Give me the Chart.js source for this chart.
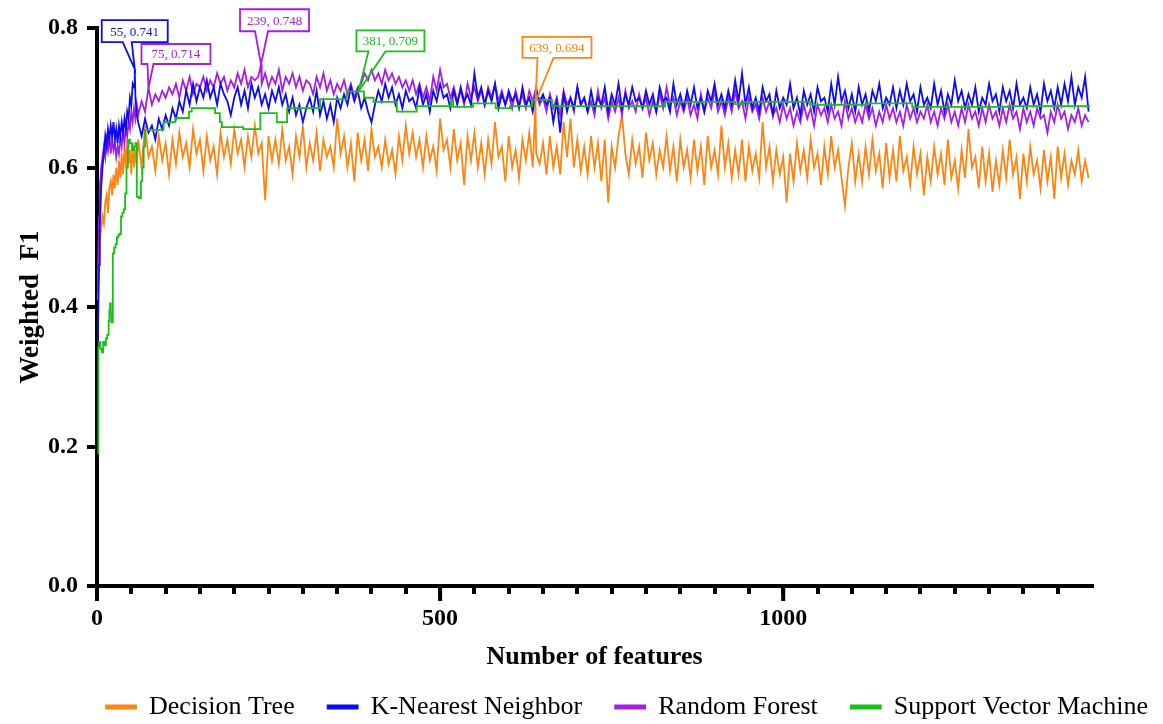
<!DOCTYPE html>
<html lang="en">
<head>
<meta charset="UTF-8">
<title>Weighted F1 vs number of features</title>
<style>
  html, body { margin: 0; padding: 0; background: #fff; }
  #wrap { width: 1163px; height: 724px; position: relative; }
</style>
</head>
<body>
<div id="wrap"><canvas id="f1Chart"></canvas></div>
<script src="https://cdn.jsdelivr.net/npm/chart.js"></script>
<script>
// series names and colours
const seriesNames = ["Decision Tree", "K-Nearest Neighbor", "Random Forest", "Support Vector Machine"];
const seriesColors = ["#ff8412", "#0c0cf4", "#a51ee6", "#19bf19"];

// features read one by one at the start, then every 5 features
const earlyFeatures = [1, 2, 3, 4, 5, 6, 8, 10, 12, 14, 16, 18, 20, 22, 24, 26, 28, 30, 32, 34, 36, 38, 40, 42, 44, 46, 48, 50, 52, 54, 56, 58];
const gridStart = 60, gridStep = 5, gridEnd = 1445;

// Decision Tree
const dtValues = [
  0.41, 0.45, 0.47, 0.49, 0.505, 0.51, 0.53, 0.52, 0.55, 0.56, 0.535, 0.57, 0.58, 0.56, 0.59, 0.57,
  0.60, 0.575, 0.61, 0.585, 0.62, 0.59, 0.63, 0.60, 0.64, 0.605, 0.625, 0.59, 0.635, 0.60, 0.625, 0.605,
  0.64, 0.60, 0.66, 0.615, 0.63, 0.595, 0.645, 0.61, 0.635, 0.59,   // 60
  0.64, 0.605, 0.65, 0.615, 0.635, 0.60, 0.655, 0.62, 0.64, 0.595,  // 110
  0.645, 0.61, 0.63, 0.59, 0.65, 0.615, 0.64, 0.605, 0.655, 0.62,   // 160
  0.64, 0.60, 0.645, 0.615, 0.66, 0.62, 0.635, 0.553, 0.645, 0.61,  // 210
  0.64, 0.605, 0.655, 0.61, 0.63, 0.59, 0.645, 0.615, 0.66, 0.60,   // 260
  0.635, 0.61, 0.65, 0.595, 0.64, 0.615, 0.63, 0.60, 0.67, 0.62,    // 310
  0.645, 0.60, 0.635, 0.58, 0.65, 0.61, 0.64, 0.595, 0.655, 0.615,  // 360
  0.63, 0.60, 0.64, 0.605, 0.625, 0.59, 0.645, 0.61, 0.66, 0.62,    // 410
  0.65, 0.615, 0.64, 0.60, 0.645, 0.61, 0.63, 0.595, 0.67, 0.625,   // 460
  0.64, 0.60, 0.655, 0.61, 0.635, 0.575, 0.645, 0.61, 0.65, 0.60,   // 510
  0.635, 0.59, 0.64, 0.605, 0.665, 0.615, 0.63, 0.58, 0.645, 0.60,  // 560
  0.625, 0.585, 0.64, 0.61, 0.65, 0.60, 0.62, 0.605, 0.635, 0.59,   // 610
  0.645, 0.60, 0.63, 0.59, 0.665, 0.615, 0.67, 0.60, 0.64, 0.595,   // 660
  0.63, 0.59, 0.645, 0.60, 0.635, 0.58, 0.64, 0.55, 0.63, 0.60,     // 710
  0.645, 0.675, 0.62, 0.59, 0.64, 0.605, 0.63, 0.585, 0.65, 0.61,   // 760
  0.635, 0.59, 0.625, 0.60, 0.645, 0.595, 0.63, 0.58, 0.64, 0.60,   // 810
  0.625, 0.585, 0.64, 0.595, 0.63, 0.575, 0.645, 0.60, 0.625, 0.59, // 860
  0.66, 0.60, 0.635, 0.585, 0.625, 0.59, 0.64, 0.58, 0.63, 0.595,   // 910
  0.62, 0.585, 0.665, 0.60, 0.63, 0.58, 0.625, 0.59, 0.615, 0.55,   // 960
  0.62, 0.58, 0.635, 0.595, 0.625, 0.585, 0.64, 0.60, 0.62, 0.575,  // 1010
  0.63, 0.59, 0.645, 0.60, 0.625, 0.585, 0.545, 0.60, 0.635, 0.58,  // 1060
  0.62, 0.58, 0.63, 0.59, 0.64, 0.595, 0.62, 0.57, 0.635, 0.585,    // 1110
  0.625, 0.58, 0.645, 0.595, 0.615, 0.575, 0.63, 0.59, 0.62, 0.56,  // 1160
  0.615, 0.58, 0.63, 0.59, 0.62, 0.575, 0.64, 0.585, 0.61, 0.57,    // 1210
  0.625, 0.585, 0.655, 0.60, 0.615, 0.57, 0.63, 0.58, 0.62, 0.565,  // 1260
  0.61, 0.575, 0.625, 0.585, 0.64, 0.59, 0.615, 0.555, 0.62, 0.58,  // 1310
  0.63, 0.59, 0.61, 0.57, 0.625, 0.58, 0.615, 0.555, 0.63, 0.585,   // 1360
  0.62, 0.575, 0.61, 0.59, 0.625, 0.58, 0.61, 0.585                 // 1410
];

// K-Nearest Neighbor
const knnValues = [
  0.35, 0.40, 0.46, 0.51, 0.54, 0.57, 0.60, 0.62, 0.645, 0.63, 0.655, 0.64, 0.66, 0.645, 0.665, 0.64,
  0.655, 0.635, 0.66, 0.645, 0.665, 0.65, 0.67, 0.655, 0.68, 0.67, 0.70, 0.69, 0.72, 0.715, 0.70, 0.675,
  0.665, 0.645, 0.67, 0.65, 0.66, 0.64, 0.67, 0.655, 0.675, 0.66,   // 60
  0.685, 0.67, 0.695, 0.68, 0.71, 0.69, 0.72, 0.695, 0.715, 0.70,   // 110
  0.725, 0.70, 0.715, 0.69, 0.72, 0.705, 0.695, 0.675, 0.70, 0.715, // 160
  0.69, 0.71, 0.685, 0.72, 0.70, 0.715, 0.69, 0.705, 0.685, 0.71,   // 210
  0.695, 0.715, 0.69, 0.705, 0.68, 0.70, 0.675, 0.69, 0.665, 0.685, // 260
  0.70, 0.68, 0.71, 0.675, 0.695, 0.67, 0.69, 0.665, 0.70, 0.685,   // 310
  0.705, 0.69, 0.715, 0.695, 0.71, 0.685, 0.70, 0.68, 0.665, 0.69,  // 360
  0.71, 0.695, 0.72, 0.70, 0.715, 0.69, 0.705, 0.685, 0.71, 0.695,  // 410
  0.70, 0.685, 0.715, 0.69, 0.705, 0.68, 0.71, 0.695, 0.72, 0.70,   // 460
  0.705, 0.685, 0.71, 0.69, 0.715, 0.695, 0.705, 0.69, 0.735, 0.70, // 510
  0.715, 0.69, 0.71, 0.695, 0.72, 0.685, 0.705, 0.69, 0.71, 0.695,  // 560
  0.705, 0.685, 0.715, 0.69, 0.70, 0.68, 0.71, 0.695, 0.705, 0.69,  // 610
  0.70, 0.665, 0.695, 0.65, 0.705, 0.68, 0.70, 0.685, 0.715, 0.69,  // 660
  0.70, 0.68, 0.71, 0.685, 0.70, 0.69, 0.715, 0.68, 0.705, 0.69,    // 710
  0.72, 0.685, 0.705, 0.69, 0.715, 0.695, 0.70, 0.685, 0.71, 0.69,  // 760
  0.705, 0.68, 0.715, 0.695, 0.70, 0.68, 0.72, 0.69, 0.705, 0.685,  // 810
  0.71, 0.69, 0.715, 0.685, 0.70, 0.68, 0.71, 0.695, 0.72, 0.69,    // 860
  0.705, 0.685, 0.71, 0.69, 0.725, 0.695, 0.735, 0.69, 0.715, 0.685,// 910
  0.70, 0.68, 0.715, 0.695, 0.705, 0.675, 0.71, 0.685, 0.70, 0.69,  // 960
  0.72, 0.685, 0.70, 0.675, 0.71, 0.69, 0.705, 0.68, 0.715, 0.695,  // 1010
  0.70, 0.68, 0.72, 0.69, 0.73, 0.695, 0.71, 0.685, 0.705, 0.68,    // 1060
  0.715, 0.69, 0.705, 0.68, 0.71, 0.695, 0.72, 0.685, 0.70, 0.69,   // 1110
  0.715, 0.685, 0.71, 0.69, 0.72, 0.695, 0.705, 0.68, 0.715, 0.69,  // 1160
  0.70, 0.685, 0.72, 0.69, 0.71, 0.68, 0.705, 0.69, 0.725, 0.695,   // 1210
  0.71, 0.685, 0.705, 0.69, 0.715, 0.68, 0.70, 0.69, 0.72, 0.695,   // 1260
  0.705, 0.68, 0.715, 0.695, 0.71, 0.685, 0.72, 0.69, 0.70, 0.685,  // 1310
  0.715, 0.69, 0.705, 0.68, 0.72, 0.695, 0.71, 0.685, 0.715, 0.69,  // 1360
  0.72, 0.695, 0.73, 0.69, 0.715, 0.70, 0.73, 0.68                  // 1410
];

// Random Forest
const rfValues = [
  0.42, 0.48, 0.53, 0.57, 0.585, 0.60, 0.615, 0.63, 0.615, 0.64, 0.625, 0.645, 0.62, 0.64, 0.625, 0.635,
  0.615, 0.63, 0.62, 0.645, 0.63, 0.65, 0.635, 0.66, 0.645, 0.665, 0.655, 0.68, 0.665, 0.685, 0.67, 0.69,
  0.675, 0.695, 0.68, 0.714, 0.69, 0.705, 0.695, 0.71, 0.70, 0.715, // 60
  0.705, 0.72, 0.70, 0.725, 0.71, 0.73, 0.705, 0.72, 0.715, 0.73,   // 110
  0.71, 0.725, 0.715, 0.735, 0.72, 0.73, 0.71, 0.725, 0.715, 0.735, // 160
  0.72, 0.74, 0.715, 0.73, 0.725, 0.73, 0.72, 0.735, 0.715, 0.73,   // 210
  0.72, 0.74, 0.71, 0.73, 0.72, 0.735, 0.715, 0.73, 0.71, 0.725,    // 260
  0.72, 0.705, 0.73, 0.715, 0.735, 0.71, 0.725, 0.705, 0.72, 0.71,  // 310
  0.725, 0.705, 0.72, 0.70, 0.715, 0.72, 0.735, 0.725, 0.74, 0.725, // 360
  0.735, 0.72, 0.74, 0.725, 0.735, 0.72, 0.73, 0.715, 0.725, 0.71,  // 410
  0.725, 0.705, 0.72, 0.70, 0.715, 0.695, 0.73, 0.71, 0.74, 0.715,  // 460
  0.72, 0.70, 0.715, 0.695, 0.71, 0.69, 0.72, 0.70, 0.715, 0.695,   // 510
  0.71, 0.69, 0.715, 0.70, 0.72, 0.695, 0.71, 0.69, 0.705, 0.685,   // 560
  0.71, 0.69, 0.705, 0.685, 0.71, 0.695, 0.715, 0.69, 0.70, 0.68,   // 610
  0.705, 0.685, 0.70, 0.675, 0.71, 0.69, 0.70, 0.68, 0.715, 0.69,   // 660
  0.70, 0.68, 0.695, 0.675, 0.71, 0.685, 0.70, 0.67, 0.695, 0.68,   // 710
  0.70, 0.675, 0.71, 0.685, 0.695, 0.68, 0.705, 0.685, 0.70, 0.675, // 760
  0.695, 0.68, 0.705, 0.685, 0.715, 0.69, 0.70, 0.675, 0.695, 0.68, // 810
  0.70, 0.675, 0.69, 0.67, 0.705, 0.68, 0.70, 0.685, 0.71, 0.68,    // 860
  0.695, 0.675, 0.70, 0.68, 0.71, 0.685, 0.695, 0.67, 0.70, 0.68,   // 910
  0.69, 0.67, 0.70, 0.68, 0.695, 0.675, 0.685, 0.665, 0.69, 0.67,   // 960
  0.685, 0.66, 0.68, 0.665, 0.69, 0.67, 0.685, 0.66, 0.69, 0.675,   // 1010
  0.685, 0.665, 0.69, 0.67, 0.68, 0.66, 0.695, 0.67, 0.685, 0.665,  // 1060
  0.68, 0.665, 0.69, 0.67, 0.685, 0.66, 0.68, 0.665, 0.69, 0.67,    // 1110
  0.685, 0.665, 0.68, 0.66, 0.69, 0.67, 0.685, 0.665, 0.68, 0.67,   // 1160
  0.69, 0.665, 0.68, 0.66, 0.685, 0.67, 0.69, 0.665, 0.68, 0.66,    // 1210
  0.685, 0.665, 0.69, 0.67, 0.68, 0.66, 0.685, 0.665, 0.69, 0.67,   // 1260
  0.68, 0.66, 0.685, 0.665, 0.69, 0.67, 0.68, 0.655, 0.685, 0.665,  // 1310
  0.68, 0.66, 0.685, 0.67, 0.675, 0.65, 0.68, 0.665, 0.69, 0.67,    // 1360
  0.68, 0.655, 0.675, 0.665, 0.685, 0.66, 0.675, 0.665              // 1410
];

// Support Vector Machine: each value holds until the next listed feature
const svmFeatures = [1, 2, 3, 5, 7, 9, 11, 13, 15, 17, 18, 19, 20, 21, 23, 25, 27, 29, 31, 33,
  35, 37, 39, 41, 43, 45, 46, 48, 51, 54, 56, 58, 61, 64, 66, 68, 70, 97, 114, 134,
  138, 172, 175, 179, 182, 213, 238, 262, 277, 325, 364, 389, 403, 437, 466, 516, 519, 548, 581, 602,
  634, 663, 828, 930, 942, 1039, 1122, 1188, 1327, 1447];
const svmValues = [0.19, 0.343, 0.35, 0.34, 0.335, 0.35, 0.345, 0.355, 0.36, 0.38, 0.395, 0.405, 0.39, 0.378, 0.477, 0.485, 0.49, 0.50, 0.503, 0.505,
  0.53, 0.535, 0.54, 0.563, 0.60, 0.63, 0.64, 0.635, 0.625, 0.63, 0.635, 0.558, 0.556, 0.58, 0.60, 0.63, 0.654, 0.665, 0.671, 0.68,
  0.685, 0.678, 0.678, 0.665, 0.658, 0.655, 0.678, 0.665, 0.685, 0.698, 0.709, 0.700, 0.694, 0.680, 0.688, 0.697, 0.687, 0.692, 0.685, 0.688,
  0.697, 0.688, 0.694, 0.691, 0.694, 0.690, 0.692, 0.687, 0.688, 0.688];

// labelled maxima: series index, feature count, weighted F1
const peakSeries = [1, 2, 2, 3, 0];
const peakFeatures = [55, 75, 239, 381, 639];
const peakValues = [0.741, 0.714, 0.748, 0.709, 0.694];

const xLabelled = [0, 500, 1000];

// callout box placement relative to the point it marks (px)
const calloutBoxes = [
  { left: -33, top: -49, w: 66, h: 22, tail: [-12, -3] },
  { left: -7, top: -44, w: 69, h: 20, tail: [-1, 5] },
  { left: -21, top: -55, w: 69, h: 22, tail: [-6, 7] },
  { left: -2, top: -61, w: 68, h: 21, tail: [10, 27] },
  { left: -13, top: -65, w: 69, h: 21, tail: [2, 18] }
];

const featureGrid = earlyFeatures.slice();
for (let f = gridStart; f <= gridEnd; f += gridStep) featureGrid.push(f);

function toPoints(xs, ys) {
  const pts = [];
  for (let i = 0; i < Math.min(xs.length, ys.length); i++) pts.push({ x: xs[i], y: ys[i] });
  return pts;
}

function withPeaks(points, idx) {
  peakSeries.forEach((s, k) => {
    if (s !== idx) return;
    const hit = points.find(p => p.x === peakFeatures[k]);
    if (hit) hit.y = peakValues[k];
    else {
      points.push({ x: peakFeatures[k], y: peakValues[k] });
      points.sort((a, b) => a.x - b.x);
    }
  });
  return points;
}

const seriesPoints = [
  withPeaks(toPoints(featureGrid, dtValues), 0),
  withPeaks(toPoints(featureGrid, knnValues), 1),
  withPeaks(toPoints(featureGrid, rfValues), 2),
  withPeaks(toPoints(svmFeatures, svmValues), 3)
];

const drawOrder = [3, 1, 2, 0];  // green on top, then blue, purple, orange

const serif = '"Liberation Serif", "Times New Roman", serif';
Chart.defaults.font.family = serif;
Chart.defaults.color = '#000';

// callouts with a pointer to the labelled maximum
const calloutPlugin = {
  id: 'callouts',
  afterDatasetsDraw(chart) {
    const ctx = chart.ctx, xs = chart.scales.x, ys = chart.scales.y;
    ctx.save();
    ctx.font = '13px ' + serif;
    ctx.textAlign = 'center';
    ctx.textBaseline = 'middle';
    ctx.lineWidth = 1.8;
    ctx.lineJoin = 'miter';
    peakFeatures.forEach((f, k) => {
      const color = seriesColors[peakSeries[k]];
      const b = calloutBoxes[k];
      const px = xs.getPixelForValue(f), py = ys.getPixelForValue(peakValues[k]);
      const bx = px + b.left, by = py + b.top;
      ctx.fillStyle = '#fff';
      ctx.fillRect(bx, by, b.w, b.h);
      ctx.strokeStyle = color;
      ctx.beginPath();
      ctx.moveTo(px + b.tail[0], by + b.h);
      ctx.lineTo(bx, by + b.h);
      ctx.lineTo(bx, by);
      ctx.lineTo(bx + b.w, by);
      ctx.lineTo(bx + b.w, by + b.h);
      ctx.lineTo(px + b.tail[1], by + b.h);
      ctx.lineTo(px, py);
      ctx.closePath();
      ctx.stroke();
      ctx.fillStyle = color;
      ctx.fillText(f + ', ' + peakValues[k].toFixed(3), bx + b.w / 2, by + b.h / 2 + 1);
    });
    ctx.restore();
  }
};

// longer ticks under the labelled x values
const majorTickPlugin = {
  id: 'majorTicks',
  afterDraw(chart) {
    const ctx = chart.ctx, xs = chart.scales.x;
    const y0 = chart.chartArea.bottom;
    ctx.save();
    ctx.strokeStyle = '#000';
    ctx.lineWidth = 4;
    xLabelled.forEach(v => {
      const px = xs.getPixelForValue(v);
      ctx.beginPath();
      ctx.moveTo(px, y0);
      ctx.lineTo(px, y0 + 15);
      ctx.stroke();
    });
    ctx.restore();
  }
};

// put the legend row where it sits in the figure
const legendNudge = {
  id: 'legendNudge',
  afterLayout(chart) {
    const lg = chart.legend;
    const dx = 627 - (lg.left + lg.right) / 2, dy = 6;
    lg.left += dx; lg.right += dx;
    lg.top += dy; lg.bottom += dy;
  }
};

new Chart(document.getElementById('f1Chart'), {
  type: 'line',
  data: {
    datasets: seriesNames.map((name, i) => ({
      label: name,
      data: seriesPoints[i],
      borderColor: seriesColors[i],
      backgroundColor: seriesColors[i],
      borderWidth: 1.8,
      pointRadius: 0,
      tension: 0,
      stepped: i === 3 ? 'before' : false,
      order: drawOrder[i]
    }))
  },
  options: {
    responsive: true,
    maintainAspectRatio: false,
    animation: false,
    events: [],
    layout: { padding: { left: 0, right: 0, top: 28, bottom: 0 } },
    scales: {
      x: {
        type: 'linear',
        min: 0,
        max: 1450,
        afterBuildTicks: s => { s.ticks = s.ticks.filter(t => t.value <= 1400); },
        afterFit: s => { s.height = 69; },
        ticks: {
          stepSize: 50,
          autoSkip: false,
          maxRotation: 0,
          padding: 10,
          font: { size: 24, weight: 'bold' },
          callback: v => (xLabelled.includes(v) ? String(v) : '')
        },
        grid: { display: true, drawOnChartArea: false, drawTicks: true, tickLength: 8, lineWidth: 4, color: '#000' },
        border: { display: true, width: 4, color: '#000' },
        title: { display: true, text: 'Number of features', font: { size: 26, weight: 'bold' }, padding: { top: 0, bottom: -18 } }
      },
      y: {
        min: 0,
        max: 0.8,
        afterFit: s => { s.width = 97; },
        ticks: {
          stepSize: 0.2,
          padding: 9,
          font: { size: 24, weight: 'bold' },
          callback: v => v.toFixed(1)
        },
        grid: { display: true, drawOnChartArea: false, drawTicks: true, tickLength: 10, lineWidth: 4, color: '#000' },
        border: { display: true, width: 4, color: '#000' },
        title: { display: true, text: 'Weighted  F1', font: { size: 27, weight: 'bold' }, padding: { top: 15, bottom: 0 } }
      },
      // empty margin on the right of the plot
      margin: {
        position: 'right',
        display: true,
        afterFit: s => { s.width = 71; },
        ticks: { display: false },
        grid: { display: false },
        border: { display: false }
      }
    },
    plugins: {
      legend: {
        position: 'bottom',
        labels: {
          boxWidth: 30,
          boxHeight: 3,
          padding: 33,
          color: '#000',
          font: { size: 26 },
          sort: (a, b) => a.datasetIndex - b.datasetIndex
        }
      },
      tooltip: { enabled: false }
    }
  },
  plugins: [calloutPlugin, majorTickPlugin, legendNudge]
});
</script>
</body>
</html>
